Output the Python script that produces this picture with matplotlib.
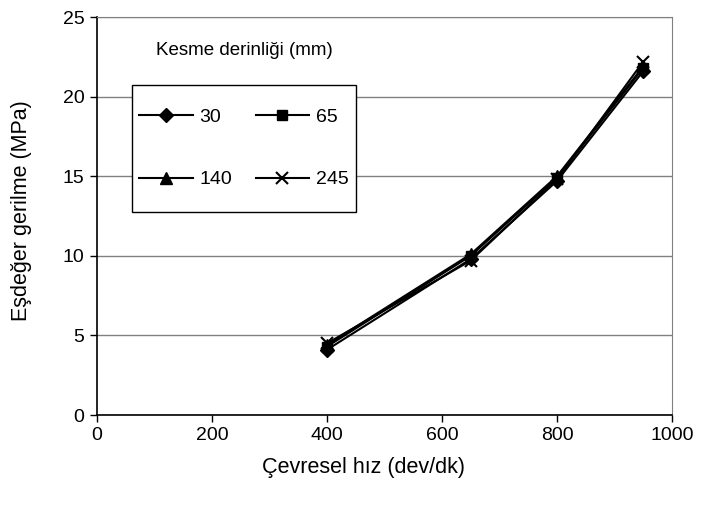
import matplotlib
matplotlib.use("Agg")
import matplotlib.pyplot as plt
from matplotlib.patches import Rectangle

plt.rcParams['font.family'] = ['Liberation Sans', 'DejaVu Sans']

# Circumferential speed (dev/dk)
speed = [400, 650, 800, 950]

# Equivalent stress (MPa) for each cutting depth (mm)
depth_labels = ["30", "65", "140", "245"]
stress_30 = [4.1, 9.8, 14.7, 21.6]
stress_65 = [4.3, 10.0, 14.9, 21.8]
stress_140 = [4.4, 10.1, 15.0, 21.9]
stress_245 = [4.5, 9.7, 14.8, 22.2]

x_ticks = [0, 200, 400, 600, 800, 1000]
y_ticks = [0, 5, 10, 15, 20, 25]

fig = plt.figure(figsize=(7.05, 5.13), dpi=100)
ax = fig.add_axes([97 / 705, 1 - 415 / 513, 575 / 705, 398 / 513])

series = [stress_30, stress_65, stress_140, stress_245]
markers = ['D', 's', '^', 'x']
msizes = [7, 7, 8, 9]
handles = []
for vals, lab, m, ms in zip(series, depth_labels, markers, msizes):
    h, = ax.plot(speed, vals, color='black', lw=1.5, marker=m, ms=ms,
                 mew=1.5 if m == 'x' else 1.0, label=lab, zorder=3)
    handles.append(h)

ax.set_xlim(0, 1000)
ax.set_ylim(0, 25)
ax.set_xticks(x_ticks)
ax.set_yticks(y_ticks)
ax.yaxis.grid(True, color='#808080', lw=1)
ax.set_axisbelow(True)

for side in ['left', 'bottom']:
    ax.spines[side].set_color('black')
    ax.spines[side].set_linewidth(1.2)
ax.spines['right'].set_color('#808080')
ax.spines['top'].set_color('#808080')
ax.tick_params(axis='both', direction='out', length=5, width=1,
               labelsize=14, colors='black', pad=4)

ax.set_xlabel("Çevresel hız (dev/dk)", fontsize=15.5)
ax.set_ylabel("Eşdeğer gerilme (MPa)", fontsize=15.5)
ax.xaxis.set_label_coords(0.463, -0.106)
ax.yaxis.set_label_coords(-0.113, 0.513)

# Legend frame
ax.add_patch(Rectangle((0.061, 0.510), 0.389, 0.319, transform=ax.transAxes,
                       facecolor='white', edgecolor='black', lw=1.0, zorder=4))

# Row-major order: 30, 65 / 140, 245
order = [0, 2, 1, 3]
leg = ax.legend([handles[i] for i in order], [depth_labels[i] for i in order],
                loc='center', ncol=2, bbox_to_anchor=(0.2557, 0.6696),
                fontsize=14, frameon=False, handlelength=2.75,
                handletextpad=0.35, columnspacing=1.2, labelspacing=2.3,
                borderpad=0)
leg.set_zorder(5)

ax.text(0.257, 0.917, "Kesme derinliği (mm)", transform=ax.transAxes,
        ha='center', va='center', fontsize=13.5)

fig.savefig("out.png", dpi=100)
